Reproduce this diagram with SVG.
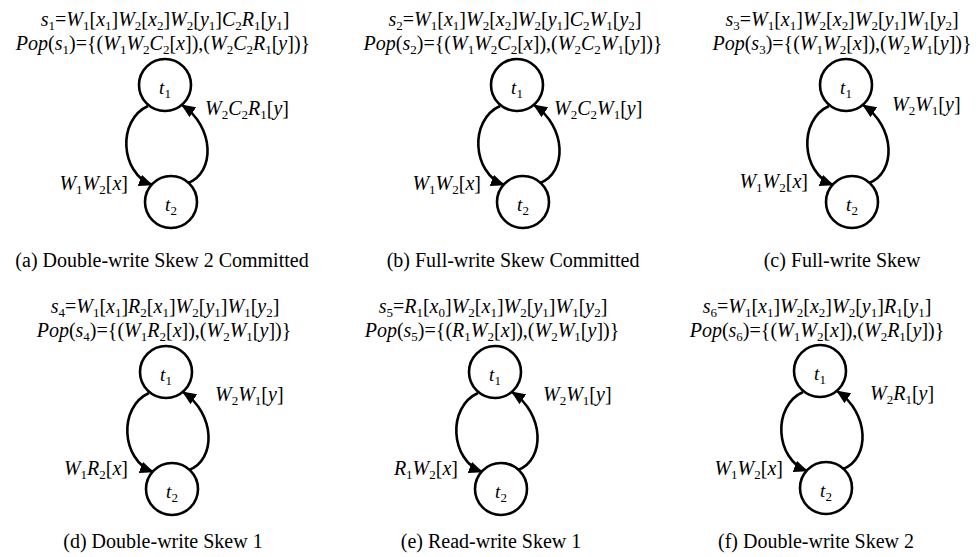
<svg xmlns="http://www.w3.org/2000/svg" width="979" height="557" viewBox="0 0 979 557">
<style>
text{font-family:"Liberation Serif","Times New Roman",serif;font-size:20px;fill:#000}
.c{text-anchor:middle}
.e{text-anchor:end}
.i{font-style:italic}
.b{font-size:13px;baseline-shift:-4px;font-style:normal}
.n{font-size:19px}
.node circle{fill:#fff;stroke:#000;stroke-width:2.6}
.conn path{fill:none;stroke:#000;stroke-width:2.6;marker-end:url(#ah)}
</style>
<defs>
<marker id="ah" viewBox="0 0 14 12" refX="13" refY="6" markerWidth="14" markerHeight="12" markerUnits="userSpaceOnUse" orient="auto"><path d="M0,0 L14,6 L0,12 z" fill="#000"/></marker>
</defs>
<rect width="979" height="557" fill="#fff"/>

<g id="connectors" class="conn">
<g id="conn-a" transform="translate(165,85)"><path d="M-17,21 C-48,35 -45,88 -13,100"/><path d="M23,98 C50,88 50,42 17,20"/></g>
<g id="conn-b" transform="translate(517,85)"><path d="M-17,21 C-48,35 -45,88 -13,100"/><path d="M23,98 C50,88 50,42 17,20"/></g>
<g id="conn-c" transform="translate(846,85)"><path d="M-17,21 C-48,35 -45,88 -13,100"/><path d="M23,98 C50,88 50,42 17,20"/></g>
<g id="conn-d" transform="translate(166,372)"><path d="M-17,21 C-48,35 -45,88 -13,100"/><path d="M23,98 C50,88 50,42 17,20"/></g>
<g id="conn-e" transform="translate(495,372)"><path d="M-17,21 C-48,35 -45,88 -13,100"/><path d="M23,98 C50,88 50,42 17,20"/></g>
<g id="conn-f" transform="translate(820,371)"><path d="M-17,21 C-48,35 -45,88 -13,100"/><path d="M23,98 C50,88 50,42 17,20"/></g>
</g>

<!-- Panel a -->
<g id="panel-a" transform="translate(165,85)">
<text class="c" x="0" y="-59"><tspan class="i">s</tspan><tspan class="b">1</tspan>=<tspan class="i">W</tspan><tspan class="b">1</tspan>[<tspan class="i">x</tspan><tspan class="b">1</tspan>]<tspan class="i">W</tspan><tspan class="b">2</tspan>[<tspan class="i">x</tspan><tspan class="b">2</tspan>]<tspan class="i">W</tspan><tspan class="b">2</tspan>[<tspan class="i">y</tspan><tspan class="b">1</tspan>]<tspan class="i">C</tspan><tspan class="b">2</tspan><tspan class="i">R</tspan><tspan class="b">1</tspan>[<tspan class="i">y</tspan><tspan class="b">1</tspan>]</text>
<text class="c" x="-2" y="-35"><tspan class="i">Pop</tspan>(<tspan class="i">s</tspan><tspan class="b">1</tspan>)={(<tspan class="i">W</tspan><tspan class="b">1</tspan><tspan class="i">W</tspan><tspan class="b">2</tspan><tspan class="i">C</tspan><tspan class="b">2</tspan>[<tspan class="i">x</tspan>]),(<tspan class="i">W</tspan><tspan class="b">2</tspan><tspan class="i">C</tspan><tspan class="b">2</tspan><tspan class="i">R</tspan><tspan class="b">1</tspan>[<tspan class="i">y</tspan>])}</text>
<g id="a-t1" class="node"><circle r="26"/><text class="c n" x="0" y="9"><tspan class="i">t</tspan><tspan class="b">1</tspan></text></g>
<g id="a-t2" class="node" transform="translate(6,117)"><circle r="26"/><text class="c n" x="0" y="9"><tspan class="i">t</tspan><tspan class="b">2</tspan></text></g>
<text x="40" y="30"><tspan class="i">W</tspan><tspan class="b">2</tspan><tspan class="i">C</tspan><tspan class="b">2</tspan><tspan class="i">R</tspan><tspan class="b">1</tspan>[<tspan class="i">y</tspan>]</text>
<text class="e" x="-37" y="105"><tspan class="i">W</tspan><tspan class="b">1</tspan><tspan class="i">W</tspan><tspan class="b">2</tspan>[<tspan class="i">x</tspan>]</text>
<text class="c" x="-3" y="182">(a) Double-write Skew 2 Committed</text>
</g>

<!-- Panel b -->
<g id="panel-b" transform="translate(517,85)">
<text class="c" x="-2" y="-59"><tspan class="i">s</tspan><tspan class="b">2</tspan>=<tspan class="i">W</tspan><tspan class="b">1</tspan>[<tspan class="i">x</tspan><tspan class="b">1</tspan>]<tspan class="i">W</tspan><tspan class="b">2</tspan>[<tspan class="i">x</tspan><tspan class="b">2</tspan>]<tspan class="i">W</tspan><tspan class="b">2</tspan>[<tspan class="i">y</tspan><tspan class="b">1</tspan>]<tspan class="i">C</tspan><tspan class="b">2</tspan><tspan class="i">W</tspan><tspan class="b">1</tspan>[<tspan class="i">y</tspan><tspan class="b">2</tspan>]</text>
<text class="c" x="-4" y="-35"><tspan class="i">Pop</tspan>(<tspan class="i">s</tspan><tspan class="b">2</tspan>)={(<tspan class="i">W</tspan><tspan class="b">1</tspan><tspan class="i">W</tspan><tspan class="b">2</tspan><tspan class="i">C</tspan><tspan class="b">2</tspan>[<tspan class="i">x</tspan>]),(<tspan class="i">W</tspan><tspan class="b">2</tspan><tspan class="i">C</tspan><tspan class="b">2</tspan><tspan class="i">W</tspan><tspan class="b">1</tspan>[<tspan class="i">y</tspan>])}</text>
<g id="b-t1" class="node"><circle r="26"/><text class="c n" x="0" y="9"><tspan class="i">t</tspan><tspan class="b">1</tspan></text></g>
<g id="b-t2" class="node" transform="translate(6,117)"><circle r="26"/><text class="c n" x="0" y="9"><tspan class="i">t</tspan><tspan class="b">2</tspan></text></g>
<text x="37" y="30"><tspan class="i">W</tspan><tspan class="b">2</tspan><tspan class="i">C</tspan><tspan class="b">2</tspan><tspan class="i">W</tspan><tspan class="b">1</tspan>[<tspan class="i">y</tspan>]</text>
<text class="e" x="-36" y="105"><tspan class="i">W</tspan><tspan class="b">1</tspan><tspan class="i">W</tspan><tspan class="b">2</tspan>[<tspan class="i">x</tspan>]</text>
<text class="c" x="-4" y="182">(b) Full-write Skew Committed</text>
</g>

<!-- Panel c -->
<g id="panel-c" transform="translate(846,85)">
<text class="c" x="-4" y="-59"><tspan class="i">s</tspan><tspan class="b">3</tspan>=<tspan class="i">W</tspan><tspan class="b">1</tspan>[<tspan class="i">x</tspan><tspan class="b">1</tspan>]<tspan class="i">W</tspan><tspan class="b">2</tspan>[<tspan class="i">x</tspan><tspan class="b">2</tspan>]<tspan class="i">W</tspan><tspan class="b">2</tspan>[<tspan class="i">y</tspan><tspan class="b">1</tspan>]<tspan class="i">W</tspan><tspan class="b">1</tspan>[<tspan class="i">y</tspan><tspan class="b">2</tspan>]</text>
<text class="c" x="-4" y="-35"><tspan class="i">Pop</tspan>(<tspan class="i">s</tspan><tspan class="b">3</tspan>)={(<tspan class="i">W</tspan><tspan class="b">1</tspan><tspan class="i">W</tspan><tspan class="b">2</tspan>[<tspan class="i">x</tspan>]),(<tspan class="i">W</tspan><tspan class="b">2</tspan><tspan class="i">W</tspan><tspan class="b">1</tspan>[<tspan class="i">y</tspan>])}</text>
<g id="c-t1" class="node"><circle r="26"/><text class="c n" x="0" y="9"><tspan class="i">t</tspan><tspan class="b">1</tspan></text></g>
<g id="c-t2" class="node" transform="translate(6,117)"><circle r="26"/><text class="c n" x="0" y="9"><tspan class="i">t</tspan><tspan class="b">2</tspan></text></g>
<text x="46" y="26"><tspan class="i">W</tspan><tspan class="b">2</tspan><tspan class="i">W</tspan><tspan class="b">1</tspan>[<tspan class="i">y</tspan>]</text>
<text class="e" x="-38" y="103"><tspan class="i">W</tspan><tspan class="b">1</tspan><tspan class="i">W</tspan><tspan class="b">2</tspan>[<tspan class="i">x</tspan>]</text>
<text class="c" x="-4" y="182">(c) Full-write Skew</text>
</g>

<!-- Panel d -->
<g id="panel-d" transform="translate(166,372)">
<text class="c" x="-1" y="-59"><tspan class="i">s</tspan><tspan class="b">4</tspan>=<tspan class="i">W</tspan><tspan class="b">1</tspan>[<tspan class="i">x</tspan><tspan class="b">1</tspan>]<tspan class="i">R</tspan><tspan class="b">2</tspan>[<tspan class="i">x</tspan><tspan class="b">1</tspan>]<tspan class="i">W</tspan><tspan class="b">2</tspan>[<tspan class="i">y</tspan><tspan class="b">1</tspan>]<tspan class="i">W</tspan><tspan class="b">1</tspan>[<tspan class="i">y</tspan><tspan class="b">2</tspan>]</text>
<text class="c" x="-2" y="-35"><tspan class="i">Pop</tspan>(<tspan class="i">s</tspan><tspan class="b">4</tspan>)={(<tspan class="i">W</tspan><tspan class="b">1</tspan><tspan class="i">R</tspan><tspan class="b">2</tspan>[<tspan class="i">x</tspan>]),(<tspan class="i">W</tspan><tspan class="b">2</tspan><tspan class="i">W</tspan><tspan class="b">1</tspan>[<tspan class="i">y</tspan>])}</text>
<g id="d-t1" class="node"><circle r="26"/><text class="c n" x="0" y="9"><tspan class="i">t</tspan><tspan class="b">1</tspan></text></g>
<g id="d-t2" class="node" transform="translate(6,117)"><circle r="26"/><text class="c n" x="0" y="9"><tspan class="i">t</tspan><tspan class="b">2</tspan></text></g>
<text x="49" y="29"><tspan class="i">W</tspan><tspan class="b">2</tspan><tspan class="i">W</tspan><tspan class="b">1</tspan>[<tspan class="i">y</tspan>]</text>
<text class="e" x="-38" y="103"><tspan class="i">W</tspan><tspan class="b">1</tspan><tspan class="i">R</tspan><tspan class="b">2</tspan>[<tspan class="i">x</tspan>]</text>
<text class="c" x="-3" y="176">(d) Double-write Skew 1</text>
</g>

<!-- Panel e -->
<g id="panel-e" transform="translate(495,372)">
<text class="c" x="-2" y="-59"><tspan class="i">s</tspan><tspan class="b">5</tspan>=<tspan class="i">R</tspan><tspan class="b">1</tspan>[<tspan class="i">x</tspan><tspan class="b">0</tspan>]<tspan class="i">W</tspan><tspan class="b">2</tspan>[<tspan class="i">x</tspan><tspan class="b">1</tspan>]<tspan class="i">W</tspan><tspan class="b">2</tspan>[<tspan class="i">y</tspan><tspan class="b">1</tspan>]<tspan class="i">W</tspan><tspan class="b">1</tspan>[<tspan class="i">y</tspan><tspan class="b">2</tspan>]</text>
<text class="c" x="-3" y="-35"><tspan class="i">Pop</tspan>(<tspan class="i">s</tspan><tspan class="b">5</tspan>)={(<tspan class="i">R</tspan><tspan class="b">1</tspan><tspan class="i">W</tspan><tspan class="b">2</tspan>[<tspan class="i">x</tspan>]),(<tspan class="i">W</tspan><tspan class="b">2</tspan><tspan class="i">W</tspan><tspan class="b">1</tspan>[<tspan class="i">y</tspan>])}</text>
<g id="e-t1" class="node"><circle r="26"/><text class="c n" x="0" y="9"><tspan class="i">t</tspan><tspan class="b">1</tspan></text></g>
<g id="e-t2" class="node" transform="translate(6,117)"><circle r="26"/><text class="c n" x="0" y="9"><tspan class="i">t</tspan><tspan class="b">2</tspan></text></g>
<text x="48" y="29"><tspan class="i">W</tspan><tspan class="b">2</tspan><tspan class="i">W</tspan><tspan class="b">1</tspan>[<tspan class="i">y</tspan>]</text>
<text class="e" x="-37" y="103"><tspan class="i">R</tspan><tspan class="b">1</tspan><tspan class="i">W</tspan><tspan class="b">2</tspan>[<tspan class="i">x</tspan>]</text>
<text class="c" x="-4" y="176">(e) Read-write Skew 1</text>
</g>

<!-- Panel f -->
<g id="panel-f" transform="translate(820,371)">
<text class="c" x="-3" y="-58"><tspan class="i">s</tspan><tspan class="b">6</tspan>=<tspan class="i">W</tspan><tspan class="b">1</tspan>[<tspan class="i">x</tspan><tspan class="b">1</tspan>]<tspan class="i">W</tspan><tspan class="b">2</tspan>[<tspan class="i">x</tspan><tspan class="b">2</tspan>]<tspan class="i">W</tspan><tspan class="b">2</tspan>[<tspan class="i">y</tspan><tspan class="b">1</tspan>]<tspan class="i">R</tspan><tspan class="b">1</tspan>[<tspan class="i">y</tspan><tspan class="b">1</tspan>]</text>
<text class="c" x="-3" y="-34"><tspan class="i">Pop</tspan>(<tspan class="i">s</tspan><tspan class="b">6</tspan>)={(<tspan class="i">W</tspan><tspan class="b">1</tspan><tspan class="i">W</tspan><tspan class="b">2</tspan>[<tspan class="i">x</tspan>]),(<tspan class="i">W</tspan><tspan class="b">2</tspan><tspan class="i">R</tspan><tspan class="b">1</tspan>[<tspan class="i">y</tspan>])}</text>
<g id="f-t1" class="node"><circle r="26"/><text class="c n" x="0" y="9"><tspan class="i">t</tspan><tspan class="b">1</tspan></text></g>
<g id="f-t2" class="node" transform="translate(6,117)"><circle r="26"/><text class="c n" x="0" y="9"><tspan class="i">t</tspan><tspan class="b">2</tspan></text></g>
<text x="50" y="29"><tspan class="i">W</tspan><tspan class="b">2</tspan><tspan class="i">R</tspan><tspan class="b">1</tspan>[<tspan class="i">y</tspan>]</text>
<text class="e" x="-37" y="104"><tspan class="i">W</tspan><tspan class="b">1</tspan><tspan class="i">W</tspan><tspan class="b">2</tspan>[<tspan class="i">x</tspan>]</text>
<text class="c" x="-4" y="177">(f) Double-write Skew 2</text>
</g>
</svg>
